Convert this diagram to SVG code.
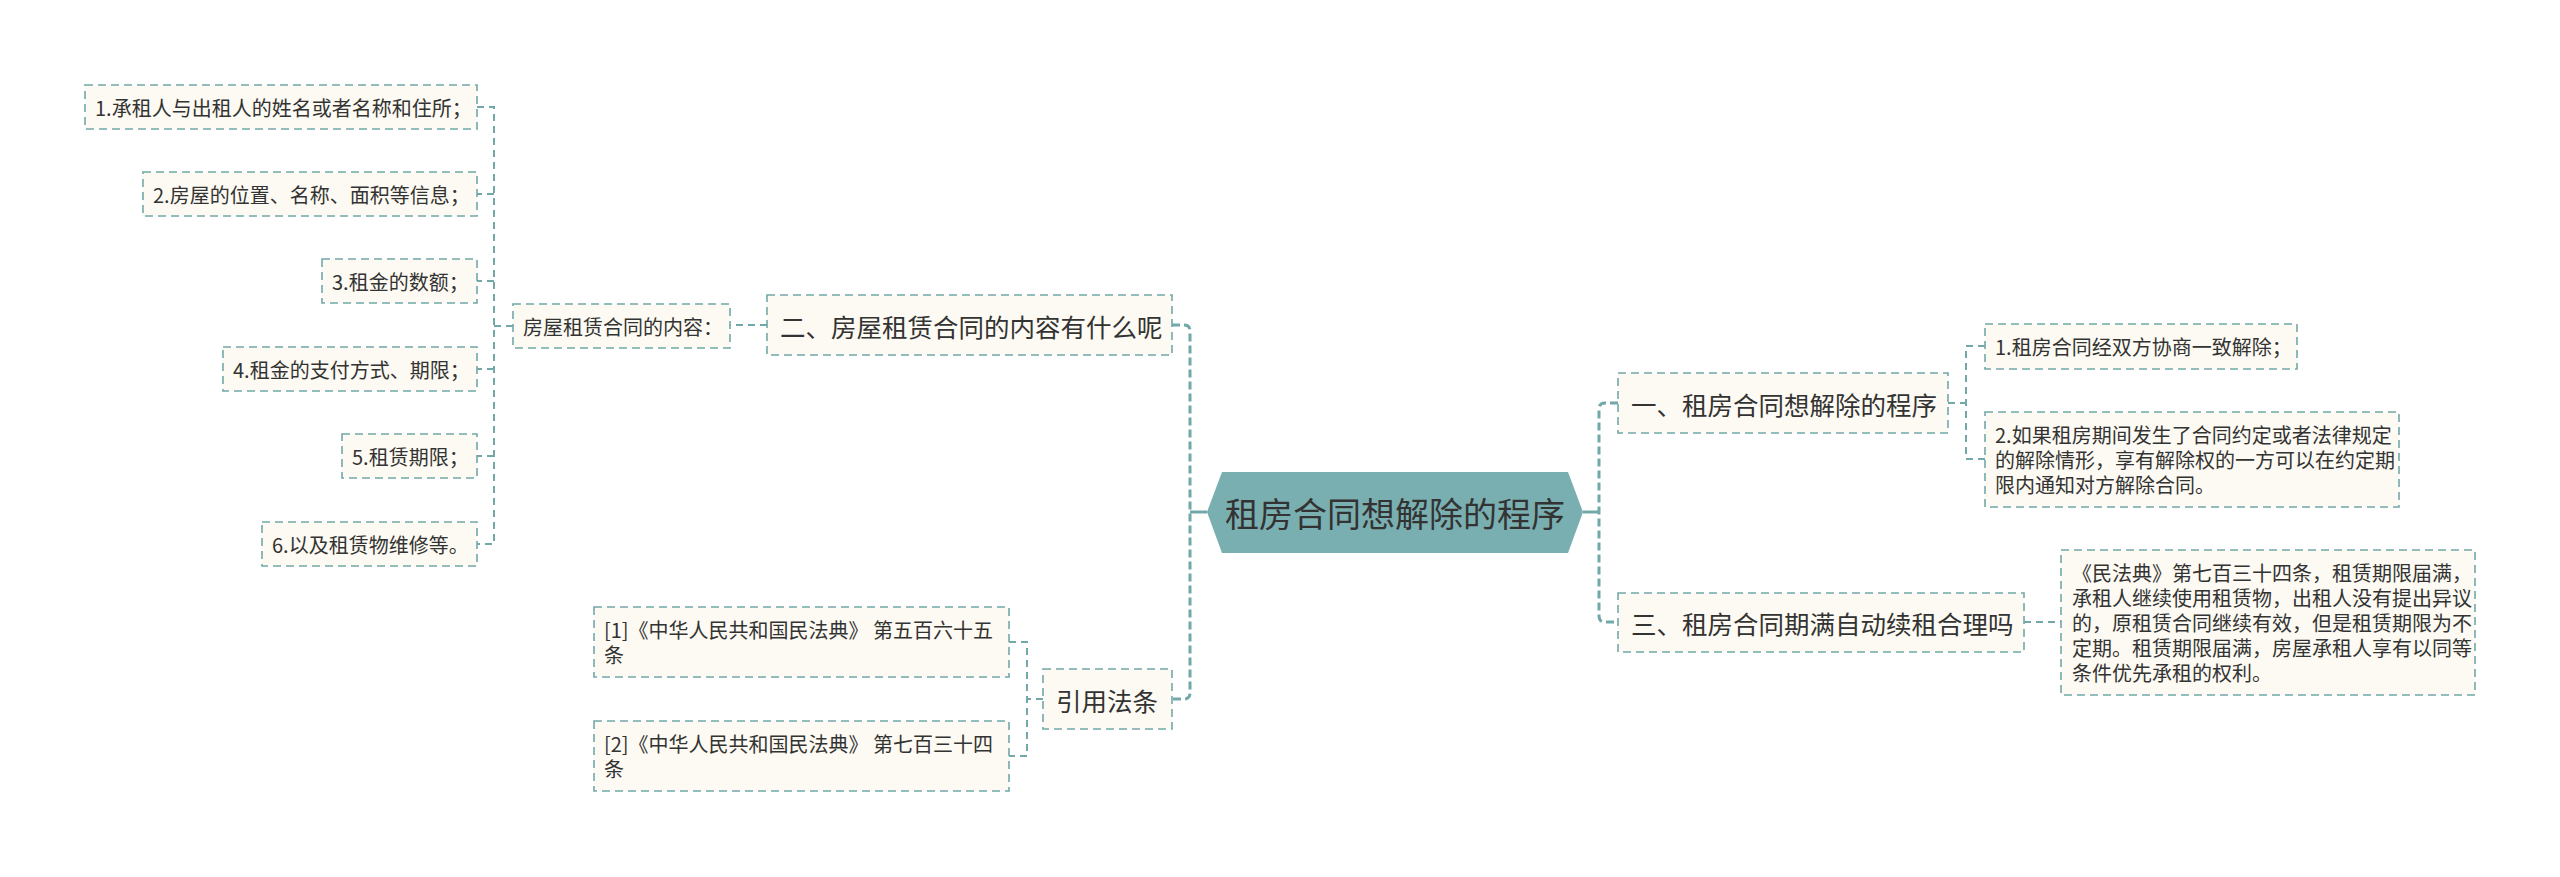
<svg xmlns="http://www.w3.org/2000/svg" width="2560" height="877" viewBox="0 0 2560 877">
<style>
.bg{fill:#ffffff}
.box{fill:#fcfaf2;stroke:#72a8a8;stroke-width:1.6;stroke-dasharray:8 5}
.t{font-family:"Noto Sans CJK SC","Noto Sans",sans-serif;fill:#333333;dominant-baseline:central}
.s{font-size:20px}
.m{font-size:25.5px}
.r{font-size:34px;text-anchor:middle}
.c{fill:none;stroke:#72a8a8;stroke-width:2;stroke-dasharray:7 5}
.ct{fill:none;stroke:#72a8a8;stroke-width:3;stroke-dasharray:8 4}
.cs{fill:none;stroke:#72a8a8;stroke-width:3}
</style>
<rect class="bg" x="0" y="0" width="2560" height="877"/>
<g id="connectors">
  <path class="cs" d="M1207 512 H1190"/>
  <path class="ct" d="M1172 325 H1184 Q1190 325 1190 331 V693 Q1190 699 1184 699 H1172"/>
  <path class="cs" d="M1583 512 H1599"/>
  <path class="ct" d="M1618 403 H1605 Q1599 403 1599 409 V616 Q1599 622 1605 622 H1618"/>
  <path class="c" d="M767 325 H730"/>
  <path class="c" d="M513 326 H494"/>
  <path class="c" d="M477 107 H494 V544 H477"/>
  <path class="c" d="M494 194 H477"/>
  <path class="c" d="M494 281 H477"/>
  <path class="c" d="M494 369 H477"/>
  <path class="c" d="M494 456 H477"/>
  <path class="c" d="M1043 699 H1027"/>
  <path class="c" d="M1009 642 H1027 V756 H1009"/>
  <path class="c" d="M1948 403 H1966"/>
  <path class="c" d="M1985 346 H1966 V459 H1985"/>
  <path class="c" d="M2024 622 H2061"/>
</g>
<g id="root">
  <polygon points="1207,512 1222,472 1568,472 1583,512 1568,553 1222,553" fill="#7aafb1"/>
  <text class="t r" x="1395" y="512">租房合同想解除的程序</text>
</g>
<g id="n-er">
  <rect class="box" x="767" y="295" width="405" height="60"/>
  <text class="t m" x="780" y="325">二、房屋租赁合同的内容有什么呢</text>
</g>
<g id="n-content">
  <rect class="box" x="513" y="304" width="217" height="44"/>
  <text class="t s" x="523" y="326">房屋租赁合同的内容：</text>
</g>
<g id="l1">
  <rect class="box" x="85" y="85" width="392" height="44"/>
  <text class="t s" x="95" y="107">1.承租人与出租人的姓名或者名称和住所；</text>
</g>
<g id="l2">
  <rect class="box" x="143" y="172" width="334" height="44"/>
  <text class="t s" x="153" y="194">2.房屋的位置、名称、面积等信息；</text>
</g>
<g id="l3">
  <rect class="box" x="322" y="259" width="155" height="44"/>
  <text class="t s" x="332" y="281">3.租金的数额；</text>
</g>
<g id="l4">
  <rect class="box" x="223" y="347" width="254" height="44"/>
  <text class="t s" x="233" y="369">4.租金的支付方式、期限；</text>
</g>
<g id="l5">
  <rect class="box" x="342" y="434" width="135" height="44"/>
  <text class="t s" x="352" y="456">5.租赁期限；</text>
</g>
<g id="l6">
  <rect class="box" x="262" y="522" width="215" height="44"/>
  <text class="t s" x="272" y="544">6.以及租赁物维修等。</text>
</g>
<g id="n-cite">
  <rect class="box" x="1043" y="669" width="129" height="60"/>
  <text class="t m" x="1056" y="699">引用法条</text>
</g>
<g id="ref1">
  <rect class="box" x="594" y="607" width="415" height="70"/>
  <text class="t s" x="604" y="629.5">[1]《中华人民共和国民法典》 第五百六十五</text>
  <text class="t s" x="604" y="654.5">条</text>
</g>
<g id="ref2">
  <rect class="box" x="594" y="721" width="415" height="70"/>
  <text class="t s" x="604" y="743.5">[2]《中华人民共和国民法典》 第七百三十四</text>
  <text class="t s" x="604" y="768.5">条</text>
</g>
<g id="n-yi">
  <rect class="box" x="1618" y="373" width="330" height="60"/>
  <text class="t m" x="1631" y="403">一、租房合同想解除的程序</text>
</g>
<g id="r1">
  <rect class="box" x="1985" y="324" width="312" height="45"/>
  <text class="t s" x="1995" y="346.5">1.租房合同经双方协商一致解除；</text>
</g>
<g id="r2">
  <rect class="box" x="1985" y="412" width="414" height="95"/>
  <text class="t s" x="1995" y="434.5">2.如果租房期间发生了合同约定或者法律规定</text>
  <text class="t s" x="1995" y="459.5">的解除情形，享有解除权的一方可以在约定期</text>
  <text class="t s" x="1995" y="484.5">限内通知对方解除合同。</text>
</g>
<g id="n-san">
  <rect class="box" x="1618" y="593" width="406" height="59"/>
  <text class="t m" x="1631" y="622.5">三、租房合同期满自动续租合理吗</text>
</g>
<g id="r3">
  <rect class="box" x="2061" y="550" width="414" height="145"/>
  <text class="t s" x="2072" y="572.5">《民法典》第七百三十四条，租赁期限届满，</text>
  <text class="t s" x="2072" y="597.5">承租人继续使用租赁物，出租人没有提出异议</text>
  <text class="t s" x="2072" y="622.5">的，原租赁合同继续有效，但是租赁期限为不</text>
  <text class="t s" x="2072" y="647.5">定期。租赁期限届满，房屋承租人享有以同等</text>
  <text class="t s" x="2072" y="672.5">条件优先承租的权利。</text>
</g>
</svg>
